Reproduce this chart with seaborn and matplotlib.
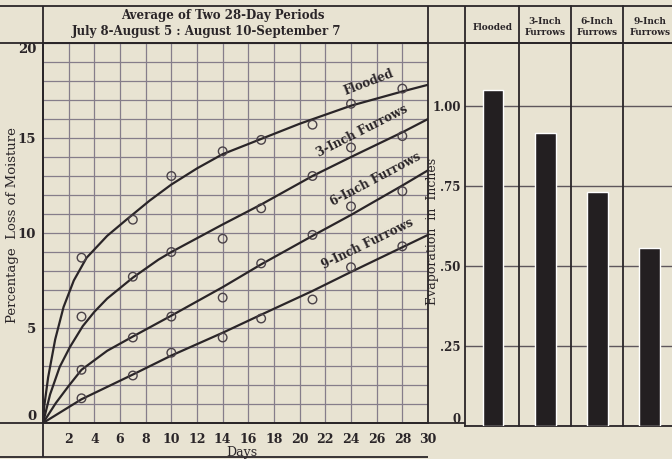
import numpy as np
import pandas as pd
import matplotlib
matplotlib.use("Agg")
import matplotlib.pyplot as plt
import seaborn as sns

# Observed moisture loss (%) at each weighing day
days = [3, 7, 10, 14, 17, 21, 24, 28]
flooded_pts = [8.7, 10.7, 13.0, 14.3, 14.9, 15.7, 16.8, 17.6]
furrow3_pts = [5.6, 7.7, 9.0, 9.7, 11.3, 13.0, 14.5, 15.1]
furrow6_pts = [2.8, 4.5, 5.6, 6.6, 8.4, 9.9, 11.4, 12.2]
furrow9_pts = [1.3, 2.5, 3.7, 4.5, 5.5, 6.5, 8.2, 9.3]

# Hand-drawn smooth curves
flooded_cx = [0, 0.1, 0.4, 0.95, 1.6, 2.4, 3.4, 5.0, 6.5, 8.3, 10, 12, 14, 17, 20, 24, 28, 30]
flooded_cy = [0, 0.9, 2.4, 4.4, 6.1, 7.5, 8.7, 9.85, 10.7, 11.7, 12.55, 13.4, 14.15, 14.95, 15.75, 16.7, 17.45, 17.8]
furrow3_cx = [0, 0.55, 1.3, 2.1, 3.1, 4, 5, 7, 9, 10, 14, 17, 21, 24, 28, 30]
furrow3_cy = [0, 1.5, 2.95, 4.0, 5.1, 5.85, 6.55, 7.65, 8.6, 9.0, 10.45, 11.5, 13.0, 14.0, 15.3, 16.0]
furrow6_cx = [0, 1, 2, 3, 5, 7, 10, 14, 17, 21, 24, 28, 30]
furrow6_cy = [0, 1.05, 1.95, 2.8, 3.8, 4.55, 5.65, 7.15, 8.35, 9.85, 10.95, 12.5, 13.3]
furrow9_cx = [0, 3, 7, 10, 14, 17, 21, 24, 28, 30]
furrow9_cy = [0, 1.25, 2.55, 3.55, 4.75, 5.7, 6.95, 7.95, 9.25, 9.9]

curve_names = ["Flooded", "3-Inch Furrows", "6-Inch Furrows", "9-Inch Furrows"]

# Total evaporation (inches)
bar_labels = ["Flooded", "3-Inch\nFurrows", "6-Inch\nFurrows", "9-Inch\nFurrows"]
evaporation = [1.05, 0.915, 0.73, 0.555]

paper = "#e8e3d2"
ink = "#2a2528"
grid_col = "#857d8a"

sns.set_style("white")
plt.rcParams["font.family"] = ["DejaVu Serif"]
plt.rcParams["font.weight"] = "bold"

W, H = 672, 459
fig = plt.figure(figsize=(W / 100, H / 100), dpi=100, facecolor=paper)


def box(x0, y0, x1, y1):
    # pixel box (origin top-left) -> figure fraction rect
    return [x0 / W, 1 - y1 / H, (x1 - x0) / W, (y1 - y0) / H]


ax = fig.add_axes(box(43, 43, 428, 423))
axr = fig.add_axes(box(465, 43, 672, 426))
for a in (ax, axr):
    a.set_facecolor("none")

# ---- left panel: moisture loss curves ----
pts = pd.DataFrame({
    "day": days * 4,
    "loss": flooded_pts + furrow3_pts + furrow6_pts + furrow9_pts,
})
curves = [(flooded_cx, flooded_cy), (furrow3_cx, furrow3_cy),
          (furrow6_cx, furrow6_cy), (furrow9_cx, furrow9_cy)]
for cx, cy in curves:
    sns.lineplot(x=cx, y=cy, ax=ax, color=ink, lw=1.6, sort=False,
                 estimator=None, zorder=3)
sns.scatterplot(data=pts, x="day", y="loss", ax=ax, s=38, marker="o",
                facecolor="none", edgecolor="#4a4248", linewidth=1.0, zorder=4)

ax.set_xlim(0, 30)
ax.set_ylim(0, 20)
ax.set_xticks(range(2, 31, 2))
ax.set_yticks(range(0, 21, 5))
ax.set_yticks(range(0, 21), minor=True)
ax.grid(True, which="both", color=grid_col, lw=0.9)
ax.tick_params(axis="both", which="both", length=0, colors=ink)
ax.tick_params(axis="x", pad=7, labelsize=9)
ax.tick_params(axis="y", pad=5, labelsize=9.5)
ylabs = ax.get_yticklabels()
ylabs[0].set_va("bottom")
ylabs[-1].set_va("top")
ax.set_xlabel("Days", fontsize=9, color=ink, va="center")
ax.xaxis.set_label_coords(0.517, -0.077)
ax.set_ylabel("Percentage  Loss of Moisture", fontsize=9.5, color=ink)
ax.yaxis.set_label_coords(-0.063, 0.52)
for s in ax.spines.values():
    s.set_color(ink)
    s.set_linewidth(1.3)

label_pos = [(25.4, 17.95, 21), (24.9, 15.35, 27), (25.9, 12.8, 28), (25.3, 9.45, 26)]
for name, (lx, ly, rot) in zip(curve_names, label_pos):
    ax.text(lx, ly, name, rotation=rot, ha="center", va="center",
            fontsize=8.5, color=ink, rotation_mode="anchor", zorder=5)

# ---- right panel: evaporation bars ----
sns.barplot(x=bar_labels, y=evaporation, ax=axr, color="#231f21",
            saturation=1, width=0.4, zorder=3)
axr.set_xlim(-0.536, 3.43)
axr.set_ylim(0, 383 / 320)
axr.set_yticks([0, 0.25, 0.5, 0.75, 1.0], ["0", ".25", ".50", ".75", "1.00"])
axr.set_xticks([])
axr.grid(True, axis="y", color="#5e565c", lw=1.0)
axr.tick_params(axis="y", length=0, pad=3, labelsize=8.5, colors=ink)
axr.get_yticklabels()[0].set_va("bottom")
axr.set_ylabel("Evaporation  in  Inches", fontsize=9, color=ink)
axr.yaxis.set_label_coords(-0.127, 0.507)
axr.spines["right"].set_visible(False)
for s in ("left", "top", "bottom"):
    axr.spines[s].set_color(ink)
    axr.spines[s].set_linewidth(1.3)
for xd in (0.5, 1.5, 2.5):
    axr.axvline(xd, ymin=0, ymax=(426 - 6) / 383, color=ink, lw=1.3,
                clip_on=False, zorder=4)

# ---- table frame and header texts (pixel coordinates) ----
frame = fig.add_axes([0, 0, 1, 1], zorder=5)
frame.set_xlim(0, W)
frame.set_ylim(H, 0)
frame.axis("off")
for (x0, y0, x1, y1) in [(0, 6, W, 6), (0, 43, W, 43), (0, 423, 465, 423),
                         (0, 457, 428, 457), (43, 6, 43, 457),
                         (428, 6, 428, 43), (465, 6, 465, 43)]:
    frame.plot([x0, x1], [y0, y1], color=ink, lw=1.3, solid_capstyle="butt")

frame.text(223, 16, "Average of Two 28-Day Periods", ha="center", va="center",
           fontsize=8.5, color=ink)
frame.text(207, 32, "July 8-August 5 : August 10-September 7", ha="center",
           va="center", fontsize=8.5, color=ink)
col_centers = [493, 545, 597, 650]
for cx, lab in zip(col_centers, bar_labels):
    frame.text(cx, 27, lab, ha="center", va="center", fontsize=6.5,
               color=ink, linespacing=1.15)

fig.savefig("out.png", dpi=100, facecolor=paper)
